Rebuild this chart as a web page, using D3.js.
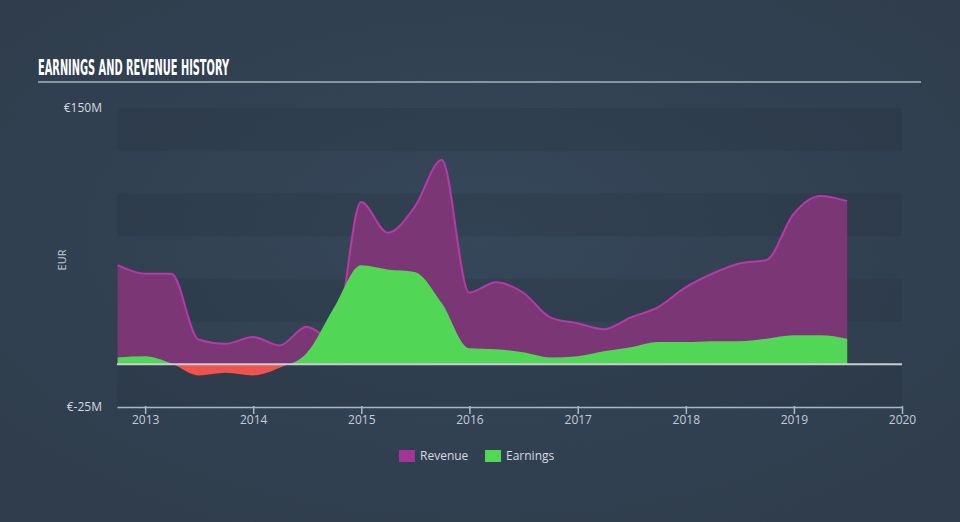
<!DOCTYPE html>
<html><head><meta charset="utf-8">
<script src="https://cdn.jsdelivr.net/npm/d3@7"></script>
<style>
html,body{margin:0;padding:0;background:#344354;}
svg{display:block;}
</style></head>
<body>
<svg id="chart" width="960" height="522"></svg>
<script>
const dates = ["2012-09-30","2012-12-31","2013-03-31","2013-06-30","2013-09-30","2013-12-31","2014-03-31","2014-06-30","2014-09-30","2014-12-31","2015-03-31","2015-06-30","2015-09-30","2015-12-31","2016-03-31","2016-06-30","2016-09-30","2016-12-31","2017-03-31","2017-06-30","2017-09-30","2017-12-31","2018-03-31","2018-06-30","2018-09-30","2018-12-31","2019-03-31","2019-06-30"];
const revenue = [58,53,53,14.5,12,16,11,22,14,95,77,92,119.5,42,48,42,27.5,24,20.5,27.5,33.5,45,53,59,61,88,98.5,95.5];
const earnings = [4,4.7,0.5,-6.5,-5,-6.5,-2,6.5,33,58,55.5,54,35.7,9.4,8.8,7,4,4.7,7.6,10,13,13,13.5,13.5,15,17,17,15];
const yTickLabels = ["€150M","€-25M"];
const yTickValues = [150,-25];
const xTickYears = [2013,2014,2015,2016,2017,2018,2019,2020];
const seriesNames = ["Revenue","Earnings"];

const svg = d3.select("#chart");
const parse = d3.timeParse("%Y-%m-%d");
const data = dates.map((d,i)=>({date:parse(d), rev:revenue[i], earn:earnings[i]}));

// background gradient
const defs = svg.append("defs");
const rg = defs.append("radialGradient").attr("id","bg").attr("cx","50%").attr("cy","45%").attr("r","65%");
rg.append("stop").attr("offset","0%").attr("stop-color","#36475a");
rg.append("stop").attr("offset","100%").attr("stop-color","#2f3d4c");
svg.append("rect").attr("width",960).attr("height",522).attr("fill","url(#bg)");

const x0 = 117, x1 = 902;
const x = d3.scaleTime().domain([parse("2012-09-28"), parse("2020-01-01")]).range([x0, x1]);
const y = d3.scaleLinear().domain([-25,150]).range([407,108]);

// bands
const bandStarts = d3.range(-25,150,25);
svg.append("g").selectAll("rect").data(bandStarts).join("rect")
  .attr("x", x0).attr("width", x1-x0)
  .attr("y", d=>y(d+25)).attr("height", d=>y(d)-y(d+25))
  .attr("fill", (d,i)=> i%2===0 ? "rgba(30,40,52,0.16)" : "rgba(255,255,255,0.0)");

// title
svg.append("text").attr("x",38).attr("y",75).text("EARNINGS AND REVENUE HISTORY")
  .attr("fill","#ffffff").attr("font-family","'DejaVu Sans Condensed','Liberation Sans Narrow',sans-serif")
  .attr("font-weight","bold").attr("font-size",21)
  .attr("textLength",191).attr("lengthAdjust","spacingAndGlyphs");
svg.append("line").attr("x1",38).attr("x2",921).attr("y1",82).attr("y2",82)
  .attr("stroke","#a9b3be").attr("stroke-width",1.5);

const curve = d3.curveMonotoneX;

// revenue
const revArea = d3.area().x(d=>x(d.date)).y0(y(0)).y1(d=>y(d.rev)).curve(curve);
svg.append("path").datum(data).attr("d",revArea).attr("fill","#7b3775");
const revLine = d3.line().x(d=>x(d.date)).y(d=>y(d.rev)).curve(curve);
svg.append("path").datum(data).attr("d",revLine).attr("fill","none").attr("stroke","#b43aa6").attr("stroke-width",2);

// earnings with clip
defs.append("clipPath").attr("id","pos").append("rect").attr("x",0).attr("y",0).attr("width",960).attr("height",y(0));
defs.append("clipPath").attr("id","neg").append("rect").attr("x",0).attr("y",y(0)).attr("width",960).attr("height",200);
const earnArea = d3.area().x(d=>x(d.date)).y0(y(0)).y1(d=>y(d.earn)).curve(curve);
svg.append("path").datum(data).attr("d",earnArea).attr("fill","#52d655").attr("clip-path","url(#pos)");
svg.append("path").datum(data).attr("d",earnArea).attr("fill","#ef5350").attr("clip-path","url(#neg)");

// zero line
svg.append("line").attr("x1",x0).attr("x2",x1).attr("y1",y(0)).attr("y2",y(0))
  .attr("stroke","#c9ced4").attr("stroke-width",2);

// x axis
const xAxis = d3.axisBottom(x).tickValues(xTickYears.map(yy=>new Date(yy,0,1)))
  .tickFormat(d3.timeFormat("%Y")).tickSize(7).tickSizeOuter(0);
const gx = svg.append("g").attr("transform",`translate(0,${y(-25)})`).call(xAxis);
gx.select(".domain").attr("stroke","#a9b8c8").attr("stroke-width",1.5);
gx.selectAll(".tick line").attr("stroke","#a9b8c8").attr("stroke-width",1.5).attr("y1",-1);
gx.selectAll(".tick text").attr("fill","#c3ccd5").attr("font-size",12).attr("font-family","'Open Sans',sans-serif").attr("dy","0.55em");

// y labels
svg.append("g").selectAll("text").data(yTickValues).join("text")
  .attr("x",102).attr("y",d=>y(d)+4).attr("text-anchor","end")
  .attr("fill","#d4dae0").attr("font-size",12).attr("font-family","'Open Sans',sans-serif")
  .text((d,i)=>yTickLabels[i]);
svg.append("text").attr("transform","translate(66,260) rotate(-90)").attr("text-anchor","middle")
  .attr("fill","#c3ccd5").attr("font-size",11).attr("font-family","'Open Sans',sans-serif").text("EUR");

// legend
const legColors = ["#a3359a","#52d655"];
const legX = [399,485];
const lg = svg.append("g");
seriesNames.forEach((n,i)=>{
  lg.append("rect").attr("x",legX[i]).attr("y",450).attr("width",16).attr("height",12).attr("fill",legColors[i]);
  lg.append("text").attr("x",legX[i]+21).attr("y",460).text(n)
    .attr("fill","#d4dae0").attr("font-size",12).attr("font-family","'Open Sans',sans-serif");
});
</script>
</body></html>
